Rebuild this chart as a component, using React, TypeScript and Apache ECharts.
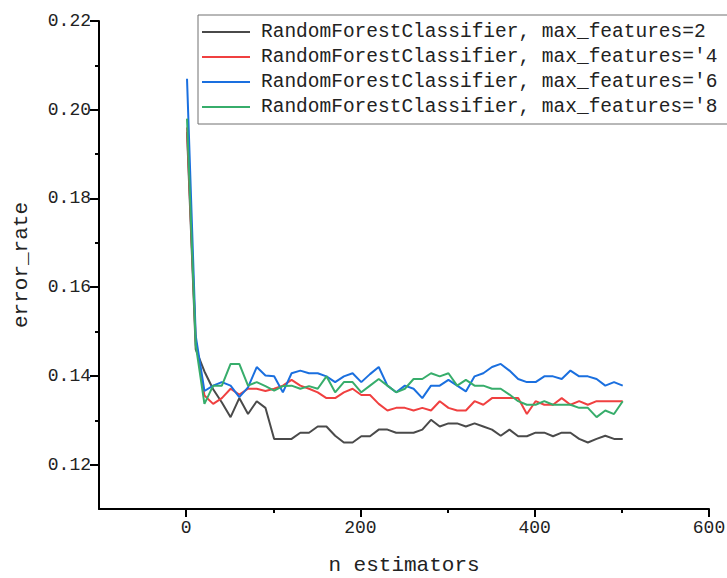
import React, { useEffect, useRef } from "react";
import * as echarts from "echarts";

const nEstimators: number[] = [
  1, 11, 21, 31, 41, 51, 61, 71, 81, 91, 101, 111, 121, 131, 141, 151, 161, 171, 181, 191,
  201, 211, 221, 231, 241, 251, 261, 271, 281, 291, 301, 311, 321, 331, 341, 351, 361, 371, 381, 391,
  401, 411, 421, 431, 441, 451, 461, 471, 481, 491, 501,
];

const seriesNames: string[] = [
  "RandomForestClassifier, max_features=2",
  "RandomForestClassifier, max_features='4",
  "RandomForestClassifier, max_features='6",
  "RandomForestClassifier, max_features='8",
];

const errMf2: number[] = [
  0.195, 0.146, 0.141, 0.137, 0.134, 0.1307, 0.135, 0.1314, 0.1343, 0.1328,
  0.1258, 0.1258, 0.1258, 0.1272, 0.1272, 0.1286, 0.1286, 0.1265, 0.125, 0.125,
  0.1264, 0.1264, 0.1279, 0.1279, 0.1272, 0.1272, 0.1272, 0.1279, 0.1301, 0.1286,
  0.1293, 0.1293, 0.1286, 0.1293, 0.1286, 0.1279, 0.1265, 0.1279, 0.1264, 0.1264,
  0.1272, 0.1272, 0.1264, 0.1272, 0.1272, 0.1258, 0.125, 0.1258, 0.1265, 0.1258, 0.1258,
];

const errMf4: number[] = [
  0.196, 0.148, 0.1356, 0.1337, 0.135, 0.1371, 0.1358, 0.1371, 0.1371, 0.1366,
  0.1371, 0.1378, 0.1391, 0.1378, 0.1371, 0.1363, 0.135, 0.135, 0.1363, 0.1371,
  0.1357, 0.1357, 0.1337, 0.1322, 0.1328, 0.1328, 0.1322, 0.1328, 0.1322, 0.1343,
  0.1328, 0.1322, 0.1322, 0.1343, 0.1335, 0.135, 0.135, 0.135, 0.135, 0.1314,
  0.1343, 0.1335, 0.1335, 0.135, 0.1335, 0.1343, 0.1335, 0.1343, 0.1343, 0.1343, 0.1343,
];

const errMf6: number[] = [
  0.207, 0.149, 0.1366, 0.1378, 0.1386, 0.1378, 0.1352, 0.1374, 0.142, 0.1401,
  0.1399, 0.1363, 0.1406, 0.1412, 0.1406, 0.1406, 0.1399, 0.1386, 0.1399, 0.1406,
  0.1386, 0.1404, 0.142, 0.1378, 0.1363, 0.1378, 0.1371, 0.135, 0.1378, 0.1378,
  0.1391, 0.1378, 0.1365, 0.1399, 0.1406, 0.142, 0.1427, 0.1412, 0.1393, 0.1386,
  0.1386, 0.1399, 0.1399, 0.1393, 0.1412, 0.1399, 0.1399, 0.1393, 0.1378, 0.1386, 0.1378,
];

const errMf8: number[] = [
  0.198, 0.147, 0.1337, 0.1378, 0.1378, 0.1427, 0.1427, 0.1378, 0.1386, 0.1377,
  0.1367, 0.1377, 0.1378, 0.1371, 0.1377, 0.1371, 0.1399, 0.1363, 0.1386, 0.1386,
  0.1363, 0.1378, 0.1393, 0.1378, 0.1363, 0.1371, 0.1393, 0.1393, 0.1406, 0.1399,
  0.1406, 0.1378, 0.1391, 0.1378, 0.1378, 0.1371, 0.1371, 0.1358, 0.1343, 0.1335,
  0.1335, 0.1343, 0.1335, 0.1335, 0.1335, 0.1328, 0.1328, 0.1307, 0.1322, 0.1314, 0.1343,
];

const xMajorTicks: number[] = [0, 200, 400, 600];
const xMinorTicks: number[] = [100, 300, 500];
const yMajorTicks: number[] = [0.12, 0.14, 0.16, 0.18, 0.2, 0.22];
const yMinorTicks: number[] = [0.13, 0.15, 0.17, 0.19, 0.21];

const colors = ["#4a4a4a", "#f04040", "#1a6fdf", "#37ad6b"];
const MONO = "'Liberation Mono', 'DejaVu Sans Mono', monospace";

export default function App() {
  const ref = useRef<HTMLDivElement>(null);

  useEffect(() => {
    if (!ref.current) return;
    const chart = echarts.init(ref.current, null, { renderer: "svg" });
    const allSeries = [errMf2, errMf4, errMf6, errMf8];

    const baseX = {
      type: "value" as const,
      min: -100,
      max: 600,
      interval: 100,
      splitLine: { show: false },
    };
    const baseY = {
      type: "value" as const,
      min: 0.11,
      max: 0.22,
      interval: 0.01,
      splitLine: { show: false },
    };

    chart.setOption({
      animation: false,
      backgroundColor: "#ffffff",
      color: colors,
      grid: {
        left: 99,
        right: 18,
        top: 21,
        bottom: 69,
        containLabel: false,
        outerBoundsMode: "none",
      },
      legend: {
        orient: "vertical",
        left: 198,
        top: 15,
        padding: [7, 30, 7, 4],
        icon: "rect",
        itemWidth: 48,
        itemHeight: 2,
        itemGap: 5,
        backgroundColor: "#ffffff",
        borderColor: "#707070",
        borderWidth: 1,
        borderRadius: 0,
        textStyle: {
          fontFamily: MONO,
          fontSize: 19.5,
          color: "#222222",
          padding: [0, 0, 0, 6],
        },
        data: seriesNames,
      },
      xAxis: [
        {
          ...baseX,
          name: "n estimators",
          nameLocation: "middle",
          nameGap: 46,
          nameTextStyle: { fontFamily: MONO, fontSize: 21, color: "#222222" },
          axisLine: { show: true, onZero: false, lineStyle: { color: "#000000", width: 2 } },
          axisTick: { show: true, customValues: xMajorTicks, length: 8, lineStyle: { color: "#000000", width: 2 } },
          axisLabel: {
            customValues: xMajorTicks,
            fontFamily: MONO,
            fontSize: 18,
            color: "#222222",
            margin: 10,
          },
        },
        {
          ...baseX,
          position: "bottom",
          axisLine: { show: false, onZero: false },
          axisTick: { show: true, customValues: xMinorTicks, length: 4, lineStyle: { color: "#000000", width: 2 } },
          axisLabel: { show: false },
        },
      ],
      yAxis: [
        {
          ...baseY,
          name: "error_rate",
          nameLocation: "middle",
          nameGap: 67,
          nameTextStyle: { fontFamily: MONO, fontSize: 21, color: "#222222" },
          axisLine: { show: true, onZero: false, lineStyle: { color: "#000000", width: 2 } },
          axisTick: { show: true, customValues: yMajorTicks, length: 9, lineStyle: { color: "#000000", width: 2 } },
          axisLabel: {
            customValues: yMajorTicks,
            fontFamily: MONO,
            fontSize: 18,
            color: "#222222",
            margin: 8,
            formatter: (v: number) => v.toFixed(2),
          },
        },
        {
          ...baseY,
          position: "left",
          axisLine: { show: false, onZero: false },
          axisTick: { show: true, customValues: yMinorTicks, length: 4, lineStyle: { color: "#000000", width: 2 } },
          axisLabel: { show: false },
        },
      ],
      series: allSeries.map((vals, i) => ({
        name: seriesNames[i],
        type: "line",
        xAxisIndex: 0,
        yAxisIndex: 0,
        symbol: "none",
        showSymbol: false,
        lineStyle: { width: 2, color: colors[i] },
        itemStyle: { color: colors[i] },
        data: nEstimators.map((x, j) => [x, vals[j]]),
      })),
    });

    return () => chart.dispose();
  }, []);

  return (
    <div
      ref={ref}
      style={{ position: "fixed", left: 0, top: 0, width: 727, height: 578, background: "#fff" }}
    />
  );
}
